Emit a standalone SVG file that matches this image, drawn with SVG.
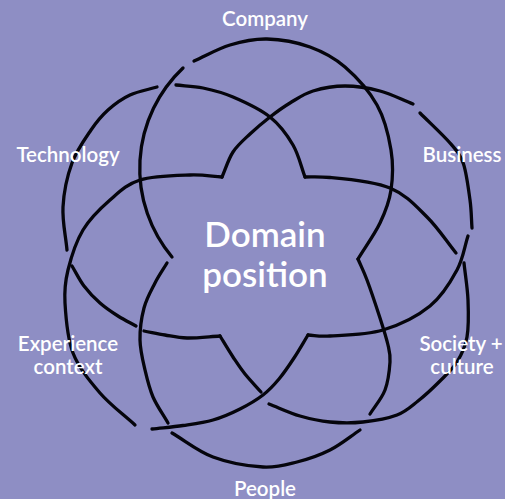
<svg xmlns="http://www.w3.org/2000/svg" width="505" height="499" viewBox="0 0 505 499">
<style>
.bg{fill:#8e8ec4}
.ln{fill:none;stroke:#05050c;stroke-width:3.3;stroke-linecap:round;stroke-linejoin:miter}
.lb{font-family:Lato,"Open Sans","Liberation Sans",sans-serif;font-size:20.5px;font-weight:600;fill:#ffffff;text-anchor:middle}
.ct{font-family:Lato,"Open Sans","Liberation Sans",sans-serif;font-size:35px;font-weight:600;fill:#ffffff;text-anchor:middle}
</style>
<rect class="bg" x="0" y="0" width="505" height="499"/>
<g id="connectors">
  <g id="loop-company">
    <path class="ln" d="M172,257 A138,138 0 0 1 183,68"/>
    <path class="ln" d="M194,61 C206,55.7 217.8,48.7 230,45 C242.2,41.3 253.7,38.7 267,39 C280.3,39.3 297,42.3 310,47 C323,51.7 333.8,57.3 345,67 C356.2,76.7 369.3,91.2 377,105 C384.7,118.8 388.7,135.8 391,150 C393.3,164.2 392.8,177.8 391,190 C389.2,202.2 385.5,211.5 380,223 C374.5,234.5 365.3,247 358,259"/>
  </g>
  <g id="loop-business">
    <path class="ln" d="M222,177 C225.7,168.7 228.3,159.2 233,152 C237.7,144.8 243.8,139.8 250,134 C256.2,128.2 263.3,122.2 270,117 C276.7,111.8 282.8,107.3 290,103 C297.2,98.7 303.8,93.8 313,91 C322.2,88.2 333.8,86 345,86 C356.2,86 368.7,88 380,91 C391.3,94 402,99.7 413,104"/>
    <path class="ln" d="M420,113 C430,123 442.8,134.7 450,143 C457.2,151.3 460.5,155 463.5,164 C466.5,173 468.5,189.2 470,200 C471.5,210.8 471.3,218.7 472,228"/>
    <path class="ln" d="M468,236 C464.3,247.3 463.3,258.3 457,270 C450.7,281.7 442.3,296 430,306 C417.7,316 399.7,325 383,330 C366.3,335 342.5,335.2 330,336 C317.5,336.8 315.3,335.3 308,335"/>
  </g>
  <g id="loop-society">
    <path class="ln" d="M305,177 C313.3,177 318,176.5 330,177.5 C344.2,178.8 373.8,181.3 390,188 C406.2,194.7 416,206.2 427,217 C438,227.8 446.3,241 456,253"/>
    <path class="ln" d="M464,263 C465.3,275.3 467.5,287.7 468,300 C468.5,312.3 468.8,326.7 467,337 C465.2,347.3 461.5,354.7 457,362 C452.5,369.3 446.5,374.5 440,381 C433.5,387.5 425.2,395.3 418,401 C410.8,406.7 406.2,411.5 397,415 C387.8,418.5 374.2,420.8 363,422 C351.8,423.2 340.5,423 330,422 C319.5,421 310.2,419 300,416 C289.8,413 279.3,408 269,404"/>
    <path class="ln" d="M261,392 C255.7,386 249.7,379.8 245,374 C240.3,368.2 237.2,363.3 233,357 C228.8,350.7 224.3,343 220,336"/>
  </g>
  <g id="loop-people">
    <path class="ln" d="M358,259 C361,266 363.3,270.2 367,280 C370.7,289.8 376.5,307.2 380,318 C383.5,328.8 386.3,337.7 388,345 C389.7,352.3 390.5,354.5 390,362 C389.5,369.5 388.3,381.3 385,390 C381.7,398.7 375,406 370,414"/>
    <path class="ln" d="M360,430 C350,436.7 340.5,444.7 330,450 C319.5,455.3 308.2,459.2 297,462 C285.8,464.8 277,467.8 263,467 C249,466.2 228.2,462.7 213,457 C197.8,451.3 185.7,441 172,433"/>
    <path class="ln" d="M168,423 C163,414.3 156.8,405.8 153,397 C149.2,388.2 147.2,379.5 145,370 C142.8,360.5 140.2,350.3 140,340 C139.8,329.7 141.5,317.5 144,308 C146.5,298.5 151.2,290.5 155,283 C158.8,275.5 163,269.7 167,263"/>
  </g>
  <g id="loop-experience">
    <path class="ln" d="M222,177 C211.3,176.3 203.7,174.5 190,175 C176.3,175.5 153.3,175.8 140,180 C126.7,184.2 119.5,191.7 110,200 C100.5,208.3 90,218.3 83,230 C76,241.7 71,257.8 68,270 C65,282.2 64.2,289.2 65,303 C65.8,316.8 67.2,338 73,353 C78.8,368 89.7,381 100,393 C110.3,405 123.3,414.3 135,425"/>
    <path class="ln" d="M152,429 C162.3,427.8 172.8,427 183,425.5 C193.2,424 203.5,422.8 213,420 C222.5,417.3 231.7,413.2 240,409 C248.3,404.8 256.5,400 263,395 C269.5,390 273.8,385.2 279,379 C284.2,372.8 289.2,365.3 294,358 C298.8,350.7 303.3,342.7 308,335"/>
  </g>
  <g id="loop-technology">
    <path class="ln" d="M305,177 C301,166.3 298.8,155 293,145 C287.2,135 280,125 270,117 C260,109 244.2,101.8 233,97 C221.8,92.2 212.5,90 203,88 C193.5,86 185,86 176,85"/>
    <path class="ln" d="M157,87 C148,89.7 138.2,91.2 130,95 C121.8,98.8 114.5,104.2 108,110 C101.5,115.8 97,121.2 91,130 C85,138.8 76.7,150.2 72,163 C67.3,175.8 63.8,192.5 63,207 C62.2,221.5 65.7,235.7 67,250"/>
    <path class="ln" d="M72,266 C76,272.7 79.3,279.8 84,286 C88.7,292.2 94.3,298 100,303 C105.7,308 112,312.2 118,316 C124,319.8 130,322.7 136,326"/>
    <path class="ln" d="M144,331 C151,332.3 157.8,333.8 165,335 C172.2,336.2 177.8,337.8 187,338 C196.2,338.2 209,336.7 220,336"/>
  </g>
</g>
<g id="center"><text class="ct" x="265" y="247">Domain</text><text class="ct" x="265" y="287">position</text></g>
<g id="company"><text class="lb" x="265" y="26">Company</text></g>
<g id="business"><text class="lb" x="462" y="162">Business</text></g>
<g id="society"><text class="lb" x="461" y="351">Society +</text><text class="lb" x="462" y="374">culture</text></g>
<g id="people"><text class="lb" x="265" y="496">People</text></g>
<g id="experience"><text class="lb" x="68" y="351">Experience</text><text class="lb" x="68" y="374">context</text></g>
<g id="technology"><text class="lb" x="68" y="162">Technology</text></g>
</svg>
